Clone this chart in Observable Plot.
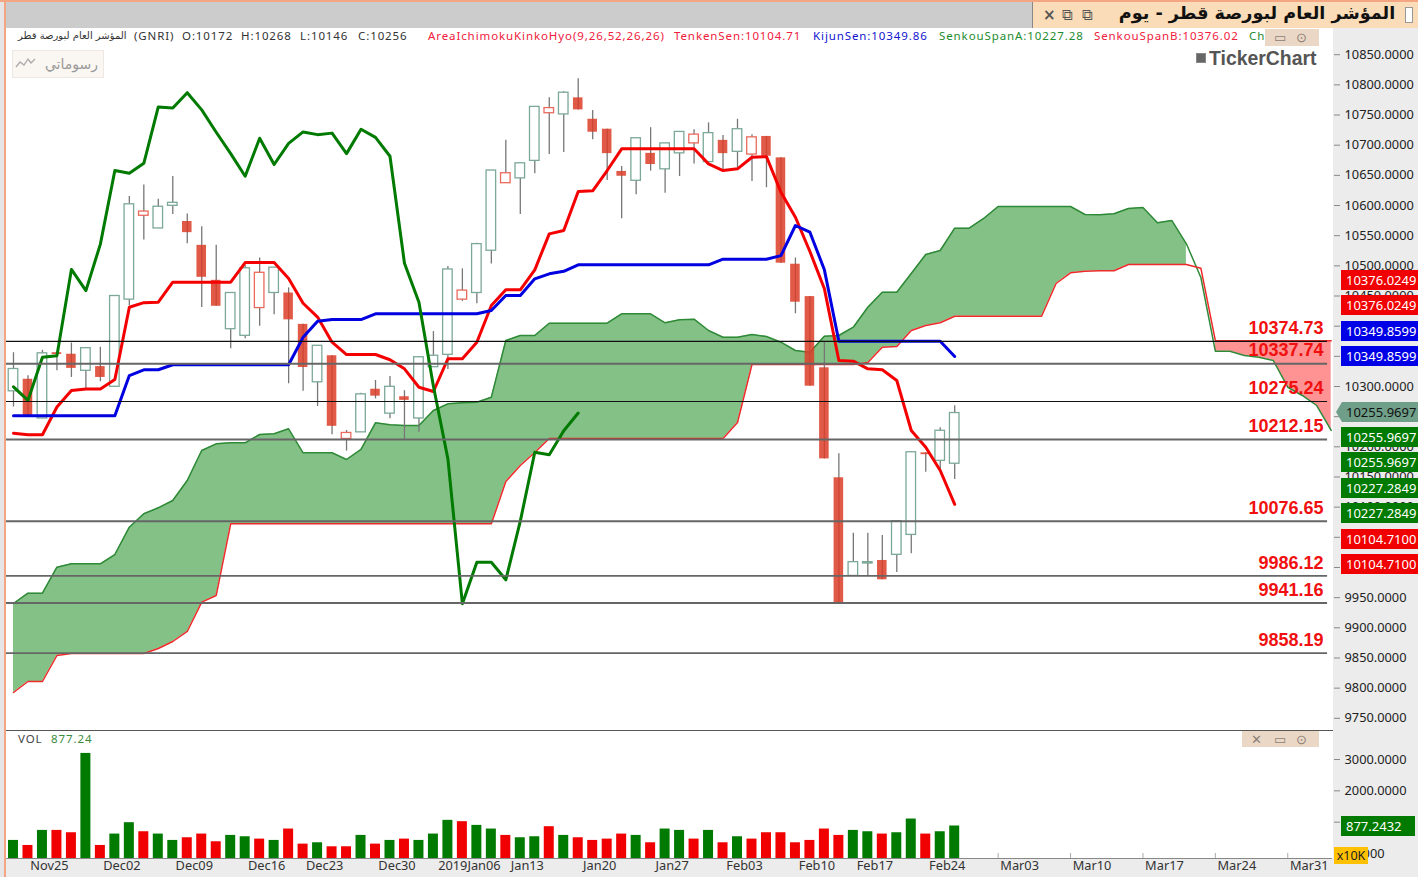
<!DOCTYPE html>
<html><head><meta charset="utf-8">
<script src="https://cdn.jsdelivr.net/npm/d3@7"></script>
<script src="https://cdn.jsdelivr.net/npm/@observablehq/plot@0.6"></script>
<style>
html,body{margin:0;padding:0;background:#fff;overflow:hidden}
#page{position:relative;width:1418px;height:877px;overflow:hidden;font-family:"Noto Sans",sans-serif}
#page>*{position:absolute}
.bg{z-index:0}
.chart{z-index:1}
.chart svg{display:block;overflow:visible}
.top{z-index:2;white-space:nowrap}
.leg{z-index:2;white-space:nowrap;font-size:11.5px;letter-spacing:.9px;line-height:16px;top:28px}
.tag{z-index:3;left:1341px;width:77px;height:20px;line-height:20px;color:#fff;font-size:13px;padding-left:5px;box-sizing:border-box;white-space:nowrap}
.ic{color:#8a7f76;font-size:13px;line-height:16px}
</style></head><body><div id="page">
<div class="bg" style="left:0;top:0;width:1418px;height:2px;background:#f4a582"></div>
<div class="bg" style="left:0;top:2px;width:4px;height:875px;background:#e6e6e6"></div>
<div class="bg" style="left:4px;top:2px;width:2px;height:875px;background:#f4a582"></div>
<div class="bg" style="left:6px;top:2px;width:1026px;height:26px;background:#cccccc"></div>
<div class="bg" style="left:1032px;top:2px;width:386px;height:26px;background:#fbdcb8;border-left:1px solid #888"></div>
<div class="bg" style="left:1333px;top:28px;width:85px;height:849px;background:#ececec"></div>
<div class="bg" style="left:6px;top:858px;width:1412px;height:19px;background:#ececec"></div>
<div id="main" class="chart" style="left:0;top:0"></div>
<div id="vol" class="chart" style="left:0;top:731px"></div>
<div class="bg" style="z-index:2;left:6px;top:729.5px;width:1327px;height:1.5px;background:#555"></div>

<div class="top" style="left:1117px;top:0;width:280px;text-align:center;font:bold 17.6px/26px 'DejaVu Sans';color:#111" dir="rtl">المؤشر العام لبورصة قطر - يوم</div>
<div class="top" style="left:1405px;top:7px;width:6px;height:14px;background:#fff;border:1px solid #999"></div>
<div class="top" style="left:1043px;top:2px;font:bold 15px/26px 'DejaVu Sans';color:#555">×</div>
<div class="top" style="left:1062px;top:2px;font:15px/26px 'DejaVu Sans';color:#555">⧉</div>
<div class="top" style="left:1082px;top:2px;font:15px/26px 'DejaVu Sans';color:#555">⧉</div>

<div class="leg" style="left:18px;color:#333;font-size:10px;letter-spacing:.1px;font-family:'DejaVu Sans'" dir="rtl">المؤشر العام لبورصة قطر</div>
<div class="leg" style="left:134px;color:#333">(GNRI)</div>
<div class="leg" style="left:182px;color:#333">O:10172</div>
<div class="leg" style="left:241px;color:#333">H:10268</div>
<div class="leg" style="left:300px;color:#333">L:10146</div>
<div class="leg" style="left:358px;color:#333">C:10256</div>
<div class="leg" style="left:428px;color:#f0203c">AreaIchimokuKinkoHyo(9,26,52,26,26)</div>
<div class="leg" style="left:674px;color:#f0203c">TenkenSen:10104.71</div>
<div class="leg" style="left:813px;color:#1414d0">KijunSen:10349.86</div>
<div class="leg" style="left:939px;color:#1e8c2e">SenkouSpanA:10227.28</div>
<div class="leg" style="left:1094px;color:#f0203c">SenkouSpanB:10376.02</div>
<div class="leg" style="left:1249px;color:#1e8c2e">Ch</div>
<div class="top" style="left:1265px;top:29px;width:54px;height:17px;background:#ebd7c6"></div>
<div class="top ic" style="left:1274px;top:29px">▭</div>
<div class="top ic" style="left:1296px;top:29px">⊙</div>

<div class="top" style="left:12px;top:50px;width:90px;height:26px;background:#faf6f2;border:1px solid #efe8e2;color:#999;font:14px/26px 'DejaVu Sans';text-align:right" dir="rtl"><span style="margin-right:5px">رسوماتي</span></div>
<svg class="top" style="left:15px;top:56px" width="21" height="13"><polyline points="1,11 5,6 9,9 13,3 16,7 20,3" fill="none" stroke="#aaa" stroke-width="1.3"/></svg>
<div class="top" style="left:1196px;top:53px;width:10px;height:10px;background:#666;border:1px solid #888;box-sizing:border-box"></div>
<div class="top" style="left:1209px;top:47px;font:bold 19.4px/22px 'Liberation Sans';color:#555">TickerChart</div>

<div class="top" style="left:18px;top:731px;font:11.5px/16px 'Noto Sans';letter-spacing:.9px;color:#444">VOL</div>
<div class="top" style="left:51px;top:731px;font:11.5px/16px 'Noto Sans';letter-spacing:.9px;color:#3d8a3d">877.24</div>
<div class="top" style="left:1242px;top:731px;width:77px;height:16px;background:#ebd7c6"></div>
<div class="top ic" style="left:1251px;top:731px">✕</div>
<div class="top ic" style="left:1274px;top:731px">▭</div>
<div class="top ic" style="left:1296px;top:731px">⊙</div>
<div id="tags"></div>
</div>
<script>
const opens=[10292,10312,10247,10356,10353.5,10326,10333,10299.5,10444,10583,10562,10599.5,10573.5,10534,10476,10395,10384,10430,10455,10455,10403,10307,10351,10213,10224,10295.5,10255,10283,10247,10332,10352.5,10444,10455,10525,10637,10645,10674,10753,10751,10778.5,10743,10726.5,10656.5,10641,10686.5,10660,10686.5,10703,10672,10708,10689,10684.5,10714.5,10679,10502.7,10449,10331,10148.7,9986,10006.6,10011.6,10021,10054,10190,10176.8,10172];
const highs=[10356,10318,10360,10356,10372,10364,10365,10451,10615,10634,10610.5,10648,10586,10565,10534,10455,10500.5,10513,10497,10463.5,10403,10367.5,10351,10227,10289,10310,10316.5,10293,10349,10391,10499,10495,10537.5,10658,10708,10670,10764,10778.5,10788.5,10810,10757.5,10726.5,10664.5,10711.5,10729,10703,10722,10725.5,10737,10716,10743,10717.5,10714.5,10679,10513,10449,10373.5,10188.5,10056.8,10056.8,10053,10076.8,10191,10190,10231.5,10268];
const lows=[10266,10252,10247,10326,10315,10296,10308,10299,10434,10543,10562,10585,10536.5,10431,10433,10362.5,10379,10400,10419,10304.5,10292,10267,10220,10193,10224,10279.5,10246.5,10212,10224,10332,10328,10441,10437,10503,10637,10585,10652.5,10684.5,10688,10758.5,10709,10641.5,10578,10618,10657,10620.5,10648,10669,10672,10658,10661,10640,10629.5,10504,10420.5,10300.5,10180,9940,9986,9986,9979.6,9991.7,10022.7,10158,10160.8,10146];
const closes=[10329,10252,10355,10353,10330,10363.5,10315,10450,10602,10590,10598,10604.5,10555,10481,10433,10455,10496,10488.5,10497,10410.5,10331.5,10367.5,10234,10223,10287,10284,10299.5,10277,10348.5,10351,10494,10459,10536,10658,10653.5,10670,10763.5,10761.5,10787,10758.5,10721.5,10686,10648.5,10711.5,10668,10703,10722,10717.5,10720,10686,10726.5,10713,10681.7,10504.4,10439.7,10300.5,10180,9940,10008.8,10008.8,9979.6,10076.8,10191,10187,10226.6,10256];
const tenkan=[10222.6,10220,10220,10266,10293.4,10296,10296,10311.6,10431.4,10439,10439.7,10472.9,10472.9,10472.9,10472.9,10472.9,10505.5,10505.5,10505.5,10479,10438,10415,10373.4,10353,10353,10353,10344.3,10329.3,10298.8,10291.7,10346,10346,10373.4,10434.3,10460.3,10460.3,10493.4,10553,10558.6,10623.2,10624.4,10658,10694,10694,10694,10694,10694,10694,10669,10658,10660.8,10680,10681,10622,10580.6,10523.8,10462,10343,10342,10329.3,10327.7,10310,10227,10199.4,10160.8,10104.71];
const kijun=[10251.4,10251.4,10251.4,10251.4,10251.4,10251.4,10251.4,10251.4,10318.2,10327.7,10327.7,10336,10336,10336,10336,10336,10336,10336,10336,10336,10381.7,10408.2,10411,10411,10411,10420.5,10420.5,10420.5,10420.5,10420.5,10420.5,10420.5,10420.5,10426,10450.8,10450.8,10478.5,10486.8,10491,10501.7,10501.7,10501.7,10501.7,10501.7,10501.7,10501.7,10501.7,10501.7,10501.7,10511,10511,10511,10511,10517,10566.9,10555.8,10493.4,10375.1,10375.1,10375.1,10375.1,10375.1,10375.1,10375.1,10375.1,10349.86];
const chikou=[10299.5,10277,10348.5,10351,10494,10459,10536,10658,10653.5,10670,10763.5,10761.5,10787,10758.5,10721.5,10686,10648.5,10711.5,10668,10703,10722,10717.5,10720,10686,10726.5,10713,10681.7,10504.4,10439.7,10300.5,10180,9940,10008.8,10008.8,9979.6,10076.8,10191,10187,10226.6,10256];
const spanA=[9940.3,9957.4,9957.4,10000.5,10006.1,10006.1,10006.1,10021.5,10066.8,10089,10098.9,10111,10144.2,10193.9,10205,10206.7,10206.7,10220.4,10221.6,10229.9,10190.1,10190.1,10190.1,10179,10195.6,10239.8,10236.5,10235.4,10235.4,10260.2,10271.3,10273,10274,10282.3,10376.2,10384.5,10384.5,10404.9,10404.9,10404.9,10404.9,10404.9,10420.5,10420.5,10420.5,10405.6,10410.6,10411.6,10392.8,10381.7,10381.7,10386.2,10382.9,10373.4,10359.7,10356.9,10383.4,10384.5,10398.3,10431.4,10456.3,10456.3,10487.3,10518.8,10525.4,10562.4,10562.4,10578.5,10598.4,10598.4,10598.4,10598.4,10598.4,10598.4,10585.1,10584.6,10586.3,10595,10596.7,10571.3,10575.1,10536.5,10480.7,10358.5,10358.5,10351.4,10348.6,10343.1,10298.8,10285.1,10268.5,10227.28];
const spanB=[9792.8,9811,9811,9854.1,9857.4,9857.4,9857.4,9857.4,9857.4,9857.4,9865.7,9877.3,9893.9,9942.5,9953.6,10072.4,10072.4,10072.4,10072.4,10072.4,10072.4,10072.4,10072.4,10072.4,10072.4,10072.4,10072.4,10072.4,10072.4,10072.4,10072.4,10072.4,10072.4,10072.4,10142.5,10169.1,10190.6,10213.8,10213.8,10213.8,10213.8,10213.8,10213.8,10213.8,10213.8,10213.8,10213.8,10213.8,10213.8,10213.8,10240.3,10336.5,10336.5,10336.5,10336.5,10336.5,10336.5,10336.5,10336.5,10339.8,10365.1,10366.3,10392.8,10401.1,10405.6,10416.5,10416.5,10416.5,10416.5,10416.5,10416.5,10416.5,10470.7,10488.5,10491.1,10491.8,10491.8,10502.2,10502.2,10502.2,10502.2,10502.2,10496.1,10376.02,10376.02,10376.02,10376.02,10376.02,10376.02,10376.02,10376.02,10376.02];
const volumes=[417,256,737,737,662,3194,256,620,983,694,620,417,502,620,374,577,534,459,417,780,299,342,214,214,577,299,417,459,417,620,1058,1015,897,780,577,502,534,855,577,502,417,459,620,577,342,780,737,459,737,342,534,459,662,662,342,417,780,577,737,694,620,662,1100,620,694,877.24];
const levels=[10374.73,10337.74,10275.24,10212.15,10076.65,9986.12,9941.16,9858.19];
const thinLevels=[10374.73,10275.24];
const dateIdx=[1,6,11,16,20,25,30,34,39,44,49,54,58,63,68,73,78,83,88];
const dateLabels=["Nov25","Dec02","Dec09","Dec16","Dec23","Dec30","2019Jan06","Jan13","Jan20","Jan27","Feb03","Feb10","Feb17","Feb24","Mar03","Mar10","Mar17","Mar24","Mar31"];
const priceTicks=[10850,10800,10750,10700,10650,10600,10550,10500,10450,10400,10350,10300,10250,10200,10150,10100,10050,10000,9950,9900,9850,9800,9750];
const volTicks=[3000,2000,1000,0];
const tagTexts=["10376.0249","10376.0249","10349.8599","10349.8599","10255.9697","10255.9697","10255.9697","10227.2849","10227.2849","10104.7100","10104.7100"];
const tagColors=["#f00000","#f00000","#0000e6","#0000e6","#6f9f88","#007a00","#007a00","#007a00","#007a00","#f00000","#f00000"];

const UP="#007a00",DOWN="#f00000";
const candles=opens.map((o,i)=>({i,o,h:highs[i],l:lows[i],c:closes[i],up:i===0||closes[i]>=closes[i-1]}));
const cloud=spanA.map((a,i)=>({i,a,b:spanB[i]}));
const xDomain=[-0.483,91.09];
const hw=0.33;
const upper=d=>d.i-hw, lower=d=>d.i+hw;
const baseStyle={background:"transparent",fontFamily:"'Noto Sans',sans-serif",overflow:"visible",color:"#333"};

const main=Plot.plot({
  width:1418,height:731,marginTop:0,marginLeft:0,marginBottom:0,marginRight:85,
  style:baseStyle,
  x:{domain:xDomain,range:[6,1332],axis:null},
  y:{domain:[9750,10850],range:[717.8,54.2],axis:null},
  marks:[
    Plot.areaY(cloud.filter(d=>d.i<=81),{x:"i",y1:"a",y2:"b",fill:"#84c186"}),
    Plot.areaY(cloud.filter(d=>d.i>=83),{x:"i",y1:"a",y2:"b",fill:"#ff9292"}),
    Plot.lineY(cloud,{x:"i",y:"a",stroke:"#2f8a38",strokeWidth:1.5}),
    Plot.lineY(cloud,{x:"i",y:"b",stroke:"#ee2a2a",strokeWidth:1.5}),
    Plot.ruleX(candles,{x:"i",y1:"l",y2:"h",stroke:"#777",strokeWidth:1.3}),
    Plot.rect(candles.filter(d=>d.c>=d.o),{x1:upper,x2:lower,y1:"o",y2:"c",fill:"#fff",stroke:d=>d.up?"#7ca897":"#ea6a5c",strokeWidth:1.3}),
    Plot.rect(candles.filter(d=>d.c<d.o),{x1:upper,x2:lower,y1:"o",y2:"c",fill:"#dc3d28",fillOpacity:.85}),
    Plot.lineY(tenkan,{x:(d,i)=>i,y:d=>d,stroke:"#f50000",strokeWidth:3,strokeLinejoin:"round"}),
    Plot.lineY(kijun,{x:(d,i)=>i,y:d=>d,stroke:"#0000e0",strokeWidth:3,strokeLinejoin:"round"}),
    Plot.lineY(chikou,{x:(d,i)=>i,y:d=>d,stroke:"#007a00",strokeWidth:3,strokeLinejoin:"round"}),
    Plot.ruleY(levels,{x1:xDomain[0],x2:90.75,y:d=>d,stroke:d=>thinLevels.includes(d)?"#111":"#666",strokeWidth:d=>thinLevels.includes(d)?1.1:1.8}),
    Plot.text(levels,{x:90.47,y:d=>d,dy:-13,text:d=>d.toFixed(2),textAnchor:"end",fill:"#f01010",fontSize:18,fontWeight:"bold",fontFamily:"'Liberation Sans'"}),
    Plot.axisY({anchor:"right",ticks:priceTicks,tickFormat:d=>d.toFixed(4),tickSize:6,tickPadding:5,fontSize:12.8,stroke:"#888",fill:"#222",label:null,textStroke:"none"})
  ]
});
document.getElementById("main").append(main);

const vol=Plot.plot({
  width:1418,height:146,marginTop:0,marginLeft:0,marginBottom:19,marginRight:85,
  style:baseStyle,
  x:{domain:xDomain,range:[6,1332],axis:null},
  y:{domain:[-160,3000],range:[127,28],axis:null},
  marks:[
    Plot.ruleX(dateIdx,{x:d=>d,y1:-160,y2:0,stroke:"#aaa"}),
    Plot.rect(candles,{x1:d=>d.i-.345,x2:d=>d.i+.345,y1:-160,y2:d=>volumes[d.i],fill:d=>d.up?UP:DOWN}),
    Plot.ruleY([-160],{x1:xDomain[0],x2:xDomain[1],stroke:"#888",strokeWidth:1.2}),
    Plot.axisX({anchor:"bottom",ticks:dateIdx,tickFormat:d=>dateLabels[dateIdx.indexOf(d)],tickSize:0,tickPadding:2,dx:21.5,fontSize:12.8,fill:"#333",label:null,textOverflow:null}),
    Plot.axisY({anchor:"right",ticks:volTicks,tickFormat:d=>d.toFixed(4),tickSize:6,tickPadding:5,fontSize:12.8,stroke:"#888",fill:"#222",label:null})
  ]
});
document.getElementById("vol").append(vol);

const tagCentres=[280,305,331,356,412,437,462,488,513,539,564];
const holder=document.getElementById("page");
tagTexts.forEach((t,k)=>{
  const el=document.createElement("div");
  el.className="tag";
  el.textContent=t;
  el.style.top=(tagCentres[k]-10)+"px";
  el.style.background=tagColors[k];
  if(k===4){el.style.color="#111";el.style.left="1336px";el.style.width="82px";el.style.paddingLeft="10px";el.style.clipPath="polygon(6px 0,100% 0,100% 100%,6px 100%,0 50%)";}
  holder.append(el);
});
const vt=document.createElement("div");
vt.className="tag";vt.textContent="877.2432";
vt.style.cssText="top:816px;width:74px;background:#007a00;padding-left:5px";
holder.append(vt);
const xk=document.createElement("div");
xk.className="top";xk.textContent="x10K";
xk.style.cssText="left:1334px;top:847px;width:34px;height:17px;background:#ffc000;color:#222;font-size:12.5px;line-height:17px;text-align:center";
holder.append(xk);
</script></body></html>
